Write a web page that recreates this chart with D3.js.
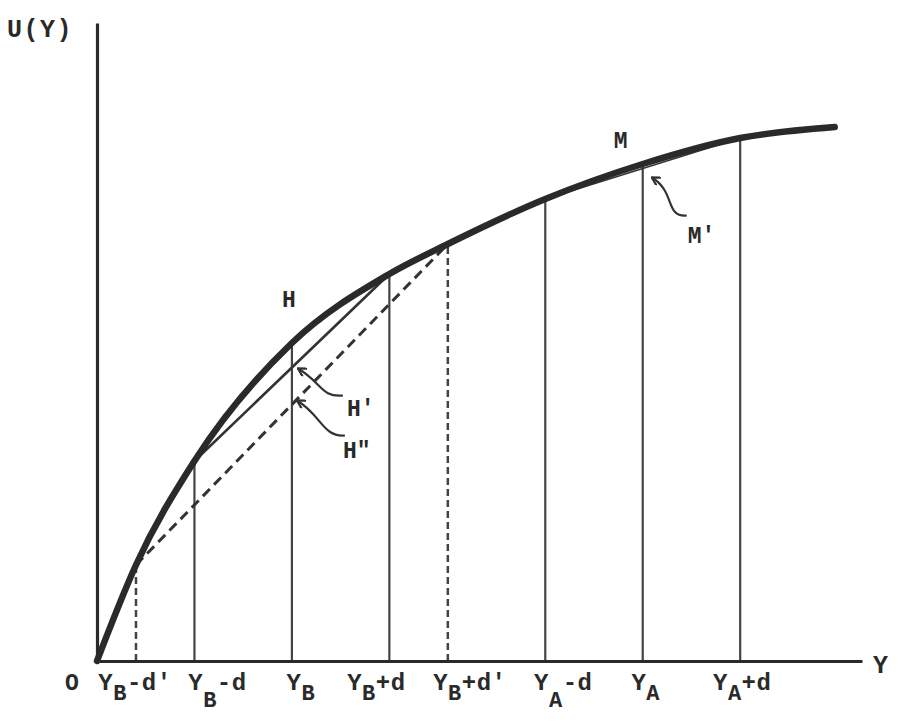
<!DOCTYPE html>
<html>
<head>
<meta charset="utf-8">
<script src="https://cdn.jsdelivr.net/npm/d3@7"></script>
<style>
  html, body { margin: 0; padding: 0; background: #ffffff; }
  svg { display: block; }
  text { font-family: "Liberation Mono", "DejaVu Sans Mono", monospace; fill: #2a2a2a; font-weight: bold; }
</style>
</head>
<body>
<svg id="chart" width="917" height="727"></svg>
<script>
// ---- data ----
// income levels (units where d = 1)
const incomes   = [0, 0.4, 1, 2, 3, 3.6, 4.6, 5.6, 6.6, 7.57];
// utility U(Y)
const utilities = [0, 96, 200, 318, 387, 417, 462, 497, 523, 534];

// ticks on the Y axis
const tickIncomes = [0.4, 1, 2, 3, 3.6, 4.6, 5.6, 6.6];
const tickMain    = ["Y", "Y", "Y", "Y", "Y", "Y", "Y", "Y"];
const tickSub     = ["B", "B", "B", "B", "B", "A", "A", "A"];
const tickRest    = ["-d'", "-d", "", "+d", "+d'", "-d", "", "+d"];
const tickDashed  = [true, false, false, false, true, false, false, false];

// chords: from income, to income, style
const chordFrom  = [1, 0.4, 4.6];
const chordTo    = [3, 3.6, 6.6];
const chordStyle = ["solid", "dashed", "thin"];

const xMax = 7.85, yMax = 638;

// ---- layout (label nudges, px) ----
const labelNudge  = [-1, 23, 9, -13, 22, 18, 3, 2];
const labelLowSub = [false, true, false, false, false, true, false, false];

// ---- scales ----
const svg = d3.select("#chart");
const x = d3.scaleLinear().domain([0, xMax]).range([97, 862]);
const y = d3.scaleLinear().domain([0, yMax]).range([661, 23]);

const U = d3.scaleLinear().domain(incomes).range(utilities); // knot lookup
const pts = incomes.map((v, i) => [v, utilities[i]]);

// arrow marker
svg.append("defs").append("marker")
  .attr("id", "arr").attr("viewBox", "0 -5 10 10")
  .attr("refX", 9).attr("refY", 0)
  .attr("markerWidth", 10).attr("markerHeight", 10)
  .attr("markerUnits", "userSpaceOnUse")
  .attr("orient", "auto")
  .append("path").attr("d", "M1,-4.5 L9,0 L1,4.5")
  .attr("fill", "none").attr("stroke", "#333").attr("stroke-width", 2.2);

// ---- vertical lines at ticks ----
tickIncomes.forEach((v, i) => {
  svg.append("line")
    .attr("x1", x(v)).attr("x2", x(v))
    .attr("y1", y(0)).attr("y2", y(U(v)))
    .attr("stroke", "#444")
    .attr("stroke-width", tickDashed[i] ? 2.5 : 2.2)
    .attr("stroke-dasharray", tickDashed[i] ? "7,4" : null);
});

// ---- chords ----
chordFrom.forEach((a, i) => {
  const b = chordTo[i];
  const st = chordStyle[i];
  svg.append("line")
    .attr("x1", x(a)).attr("y1", y(U(a)))
    .attr("x2", x(b)).attr("y2", y(U(b)))
    .attr("stroke", "#333")
    .attr("stroke-width", st === "dashed" ? 3 : (st === "thin" ? 1.6 : 2.6))
    .attr("stroke-dasharray", st === "dashed" ? "10,6" : null);
});

// ---- utility curve ----
const line = d3.line().x(d => x(d[0])).y(d => y(d[1])).curve(d3.curveMonotoneX);
svg.append("path").datum(pts)
  .attr("d", line)
  .attr("fill", "none").attr("stroke", "#2a2a2a")
  .attr("stroke-width", 6.5).attr("stroke-linecap", "round");

// ---- axes ----
const xAxis = d3.axisBottom(x).tickValues([]).tickSizeOuter(0);
const yAxis = d3.axisLeft(y).tickValues([]).tickSizeOuter(0);
const gx = svg.append("g").attr("transform", `translate(0,${y(0)})`).call(xAxis);
const gy = svg.append("g").attr("transform", `translate(${x(0)},0)`).call(yAxis);
[gx, gy].forEach(g => g.select(".domain").attr("stroke", "#2a2a2a").attr("stroke-width", 3.2));

// axis titles
svg.append("text").attr("x", 7).attr("y", 37)
  .attr("font-size", 25).attr("letter-spacing", 1.5).text("U(Y)");
svg.append("text").attr("x", x(xMax) + 11).attr("y", 673)
  .attr("font-size", 25).text("Y");

// origin
svg.append("text").attr("x", x(0) - 25).attr("y", 690)
  .attr("font-size", 23).attr("text-anchor", "middle").text("O");

// tick labels
tickIncomes.forEach((v, i) => {
  const t = svg.append("text")
    .attr("x", x(v) + labelNudge[i]).attr("y", 690)
    .attr("font-size", 24).attr("letter-spacing", 0.5).attr("text-anchor", "middle");
  t.append("tspan").text(tickMain[i]);
  const sd = labelLowSub[i] ? 17 : 10;
  t.append("tspan").attr("dy", sd).attr("font-size", 22).text(tickSub[i]);
  if (tickRest[i]) t.append("tspan").attr("dy", -sd).text(tickRest[i]);
});

// ---- point annotations ----
const chordAt = (i, v) => {
  const a = chordFrom[i], b = chordTo[i];
  return U(a) + (U(b) - U(a)) * (v - a) / (b - a);
};
const YB = 2, YA = 5.6;

svg.append("text").attr("x", x(YB) - 3).attr("y", y(U(YB)) - 36)
  .attr("font-size", 23).attr("text-anchor", "middle").text("H");
svg.append("text").attr("x", x(YA) - 22).attr("y", y(U(YA)) - 16)
  .attr("font-size", 23).attr("text-anchor", "middle").text("M");

function leader(tx, ty, sx, sy) {
  const p = d3.path();
  p.moveTo(sx, sy);
  p.bezierCurveTo(sx - 22, sy + 2, tx + 24, ty + 14, tx, ty);
  svg.append("path").attr("d", p.toString())
    .attr("fill", "none").attr("stroke", "#333").attr("stroke-width", 2.2)
    .attr("marker-end", "url(#arr)");
}

{
  const px = x(YB), py = y(chordAt(0, YB));
  leader(px + 6, py + 1, px + 51, py + 28);
  svg.append("text").attr("x", px + 55).attr("y", py + 48).attr("font-size", 23).text("H'");
}
{
  const px = x(YB), py = y(chordAt(1, YB));
  leader(px + 5, py - 4, px + 53, py + 31);
  svg.append("text").attr("x", px + 51).attr("y", py + 53).attr("font-size", 23).text("H\"");
}
{
  const px = x(YA), py = y(chordAt(2, YA));
  leader(px + 9, py + 9, px + 44, py + 47);
  svg.append("text").attr("x", px + 45).attr("y", py + 74).attr("font-size", 23).text("M'");
}
</script>
</body>
</html>
